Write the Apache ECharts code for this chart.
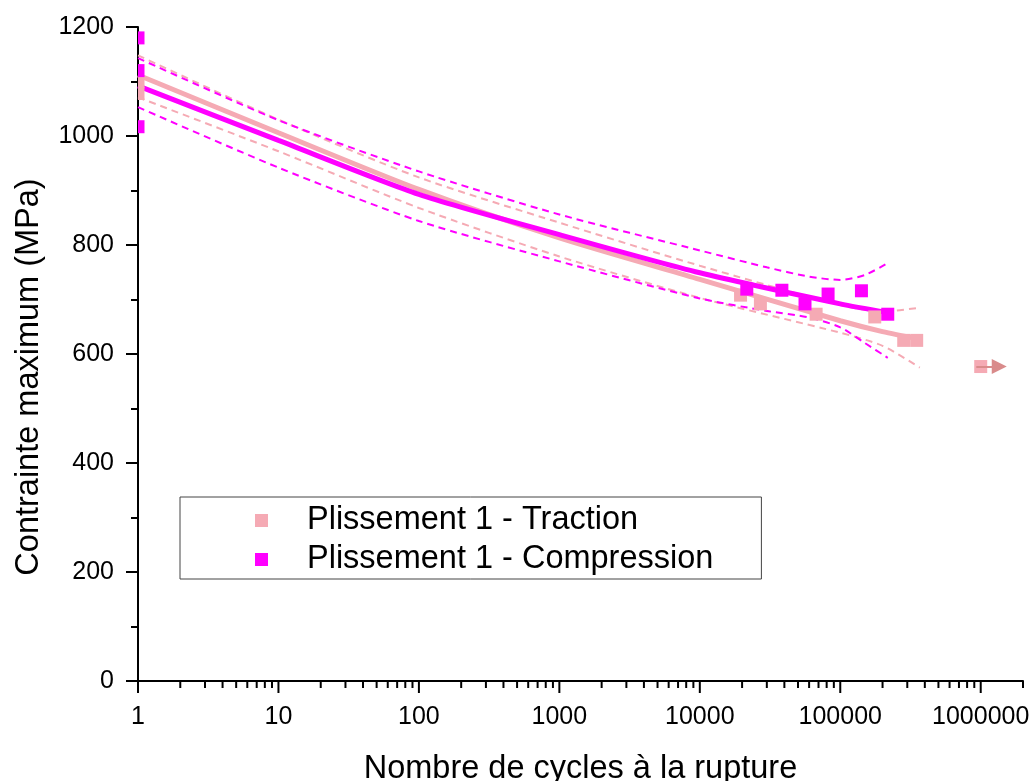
<!DOCTYPE html>
<html>
<head>
<meta charset="utf-8">
<script src="https://cdn.jsdelivr.net/npm/echarts@6/dist/echarts.min.js"></script>
<style>
  html, body { margin: 0; padding: 0; background: #ffffff; }
  #chart { width: 1034px; height: 781px; }
</style>
</head>
<body>
<div id="chart"></div>
<script>
// Fatigue test results: maximum stress vs. number of cycles to failure
const tractionCycles = [1, 1, 19500, 27000, 67300, 176000, 283000, 350000, 1000000];
const tractionStress = [1100, 1078, 708, 692, 673, 668, 625, 625, 577];

const compressionCycles = [1, 1, 1, 21600, 38400, 56100, 81900, 141500, 217800];
const compressionStress = [1180, 1120, 1017, 719, 717, 692, 710, 716, 673];

// Fitted curve and confidence bands, traction
const tractionFitCycles = [1, 10, 100, 1000, 10000, 100000, 200000, 368000];
const tractionFit       = [1112, 1006, 902, 813, 737, 661, 641, 627];
const tractionUpper     = [1148, 1030, 924, 841, 762, 690, 678, 685];
const tractionLower     = [1071, 972, 868, 779, 703, 639, 615, 575];

// Fitted curve and confidence bands, compression
const compressionFitCycles  = [1, 10, 100, 1000, 10000, 100000, 217800];
const compressionFit        = [1092, 992, 893, 819, 749, 692, 676];
const compressionBandCycles = [1, 10, 100, 1000, 10000, 30000, 60000, 100000, 150000, 217800];
const compressionUpper      = [1143, 1029, 935, 856, 790, 759, 742, 736, 745, 767];
const compressionLower      = [1053, 942, 844, 770, 702, 679, 667, 649, 620, 593];

// Run-out specimen (test stopped without failure)
const runoutStart = [930000, 577];
const runoutEnd = [1355000, 577];

// Axis ticks
const xMajorTicks = [1, 10, 100, 1000, 10000, 100000, 1000000];
const xMinorSteps = [2, 3, 4, 5, 6, 7, 8, 9];
const xMinorTicks = [];
xMajorTicks.forEach(function (d) {
  xMinorSteps.forEach(function (m) {
    if (d * m <= 2000000) xMinorTicks.push(d * m);
  });
});

const PINK = '#F5AAB4';
const MAGENTA = '#FF00FF';
const ARROW = '#D98B8B';
const FONT = 'Liberation Sans, Arial, sans-serif';

function pairs(xs, ys) {
  return xs.map(function (x, i) { return [x, ys[i]]; });
}

function squareSeries(name, xs, ys, color, z) {
  return {
    type: 'custom',
    name: name,
    coordinateSystem: 'cartesian2d',
    clip: true,
    z: z,
    itemStyle: { color: color },
    encode: { x: 0, y: 1 },
    data: pairs(xs, ys),
    renderItem: function (params, api) {
      const p = api.coord([api.value(0), api.value(1)]);
      const s = 13;
      return {
        type: 'rect',
        shape: { x: p[0] - s / 2, y: p[1] - s / 2, width: s, height: s },
        style: { fill: color }
      };
    }
  };
}

function tickSeries(values, len) {
  return {
    type: 'custom',
    coordinateSystem: 'cartesian2d',
    clip: false,
    silent: true,
    z: 6,
    encode: { x: 0 },
    data: values.map(function (v) { return [v, 0]; }),
    renderItem: function (params, api) {
      const p = api.coord([api.value(0), 0]);
      return {
        type: 'line',
        shape: { x1: p[0], y1: p[1], x2: p[0], y2: p[1] + len },
        style: { stroke: '#000', lineWidth: 2 }
      };
    }
  };
}

function curve(xs, ys, color, width, dashed) {
  return {
    type: 'line',
    data: pairs(xs, ys),
    showSymbol: false,
    symbol: 'none',
    smooth: 0.25,
    silent: true,
    z: 2,
    lineStyle: { color: color, width: width, type: dashed ? [7, 5] : 'solid' }
  };
}

const chart = echarts.init(document.getElementById('chart'), null, { renderer: 'canvas' });

chart.setOption({
  animation: false,
  backgroundColor: '#ffffff',
  grid: { left: 138, right: 11, top: 27, bottom: 100, containLabel: false, outerBoundsMode: 'none' },
  legend: {
    orient: 'vertical',
    left: 180,
    top: 497,
    padding: [7, 48, 3, 75],
    itemWidth: 13,
    itemHeight: 13,
    itemGap: 6,
    borderColor: '#444444',
    borderWidth: 1,
    selectedMode: false,
    textStyle: { fontSize: 32.5, fontFamily: FONT, color: '#000', padding: [0, 0, 0, 34] },
    data: [
      { name: 'Plissement 1 - Traction', icon: 'rect', itemStyle: { color: PINK } },
      { name: 'Plissement 1 - Compression', icon: 'rect', itemStyle: { color: MAGENTA } }
    ]
  },
  xAxis: {
    type: 'log',
    logBase: 10,
    min: 1,
    max: 2000000,
    name: 'Nombre de cycles à la rupture',
    nameLocation: 'middle',
    nameGap: 72,
    nameTextStyle: { fontSize: 32.5, fontFamily: FONT, color: '#000' },
    axisLine: { onZero: false, lineStyle: { color: '#000', width: 2 } },
    axisTick: { show: false },
    minorTick: { show: false },
    splitLine: { show: false },
    axisLabel: {
      margin: 24,
      fontSize: 25,
      fontFamily: FONT,
      color: '#000',
      formatter: function (v) {
        const e = Math.log10(v);
        if (Math.abs(e - Math.round(e)) < 1e-6) return String(Math.round(Math.pow(10, Math.round(e))));
        return '';
      }
    }
  },
  yAxis: {
    type: 'value',
    min: 0,
    max: 1200,
    interval: 200,
    name: 'Contrainte maximum (MPa)',
    nameLocation: 'middle',
    nameGap: 92,
    nameTextStyle: { fontSize: 32.5, fontFamily: FONT, color: '#000', padding: [0, 46, 0, 0] },
    axisLine: { show: true, onZero: false, lineStyle: { color: '#000', width: 2 } },
    axisTick: { show: true, length: 12, lineStyle: { color: '#000', width: 2 } },
    minorTick: { show: true, splitNumber: 2, length: 7, lineStyle: { color: '#000', width: 2 } },
    splitLine: { show: false },
    axisLabel: {
      margin: 24,
      fontSize: 25,
      fontFamily: FONT,
      color: '#000',
      formatter: function (v) { return String(v); }
    }
  },
  series: [
    curve(tractionFitCycles, tractionUpper, PINK, 2, true),
    curve(tractionFitCycles, tractionLower, PINK, 2, true),
    curve(compressionBandCycles, compressionUpper, MAGENTA, 2, true),
    curve(compressionBandCycles, compressionLower, MAGENTA, 2, true),
    curve(tractionFitCycles, tractionFit, PINK, 5, false),
    curve(compressionFitCycles, compressionFit, MAGENTA, 5, false),
    squareSeries('Plissement 1 - Traction', tractionCycles, tractionStress, PINK, 4),
    squareSeries('Plissement 1 - Compression', compressionCycles, compressionStress, MAGENTA, 5),
    {
      type: 'line',
      data: [],
      silent: true,
      z: 7,
      markLine: {
        silent: true,
        symbol: ['none', 'triangle'],
        symbolSize: [15, 15],
        label: { show: false },
        lineStyle: { color: ARROW, width: 2, type: 'solid' },
        itemStyle: { color: ARROW },
        data: [[{ coord: runoutStart }, { coord: runoutEnd }]]
      }
    },
    tickSeries(xMajorTicks, 12),
    tickSeries(xMinorTicks, 7)
  ]
});
</script>
</body>
</html>
